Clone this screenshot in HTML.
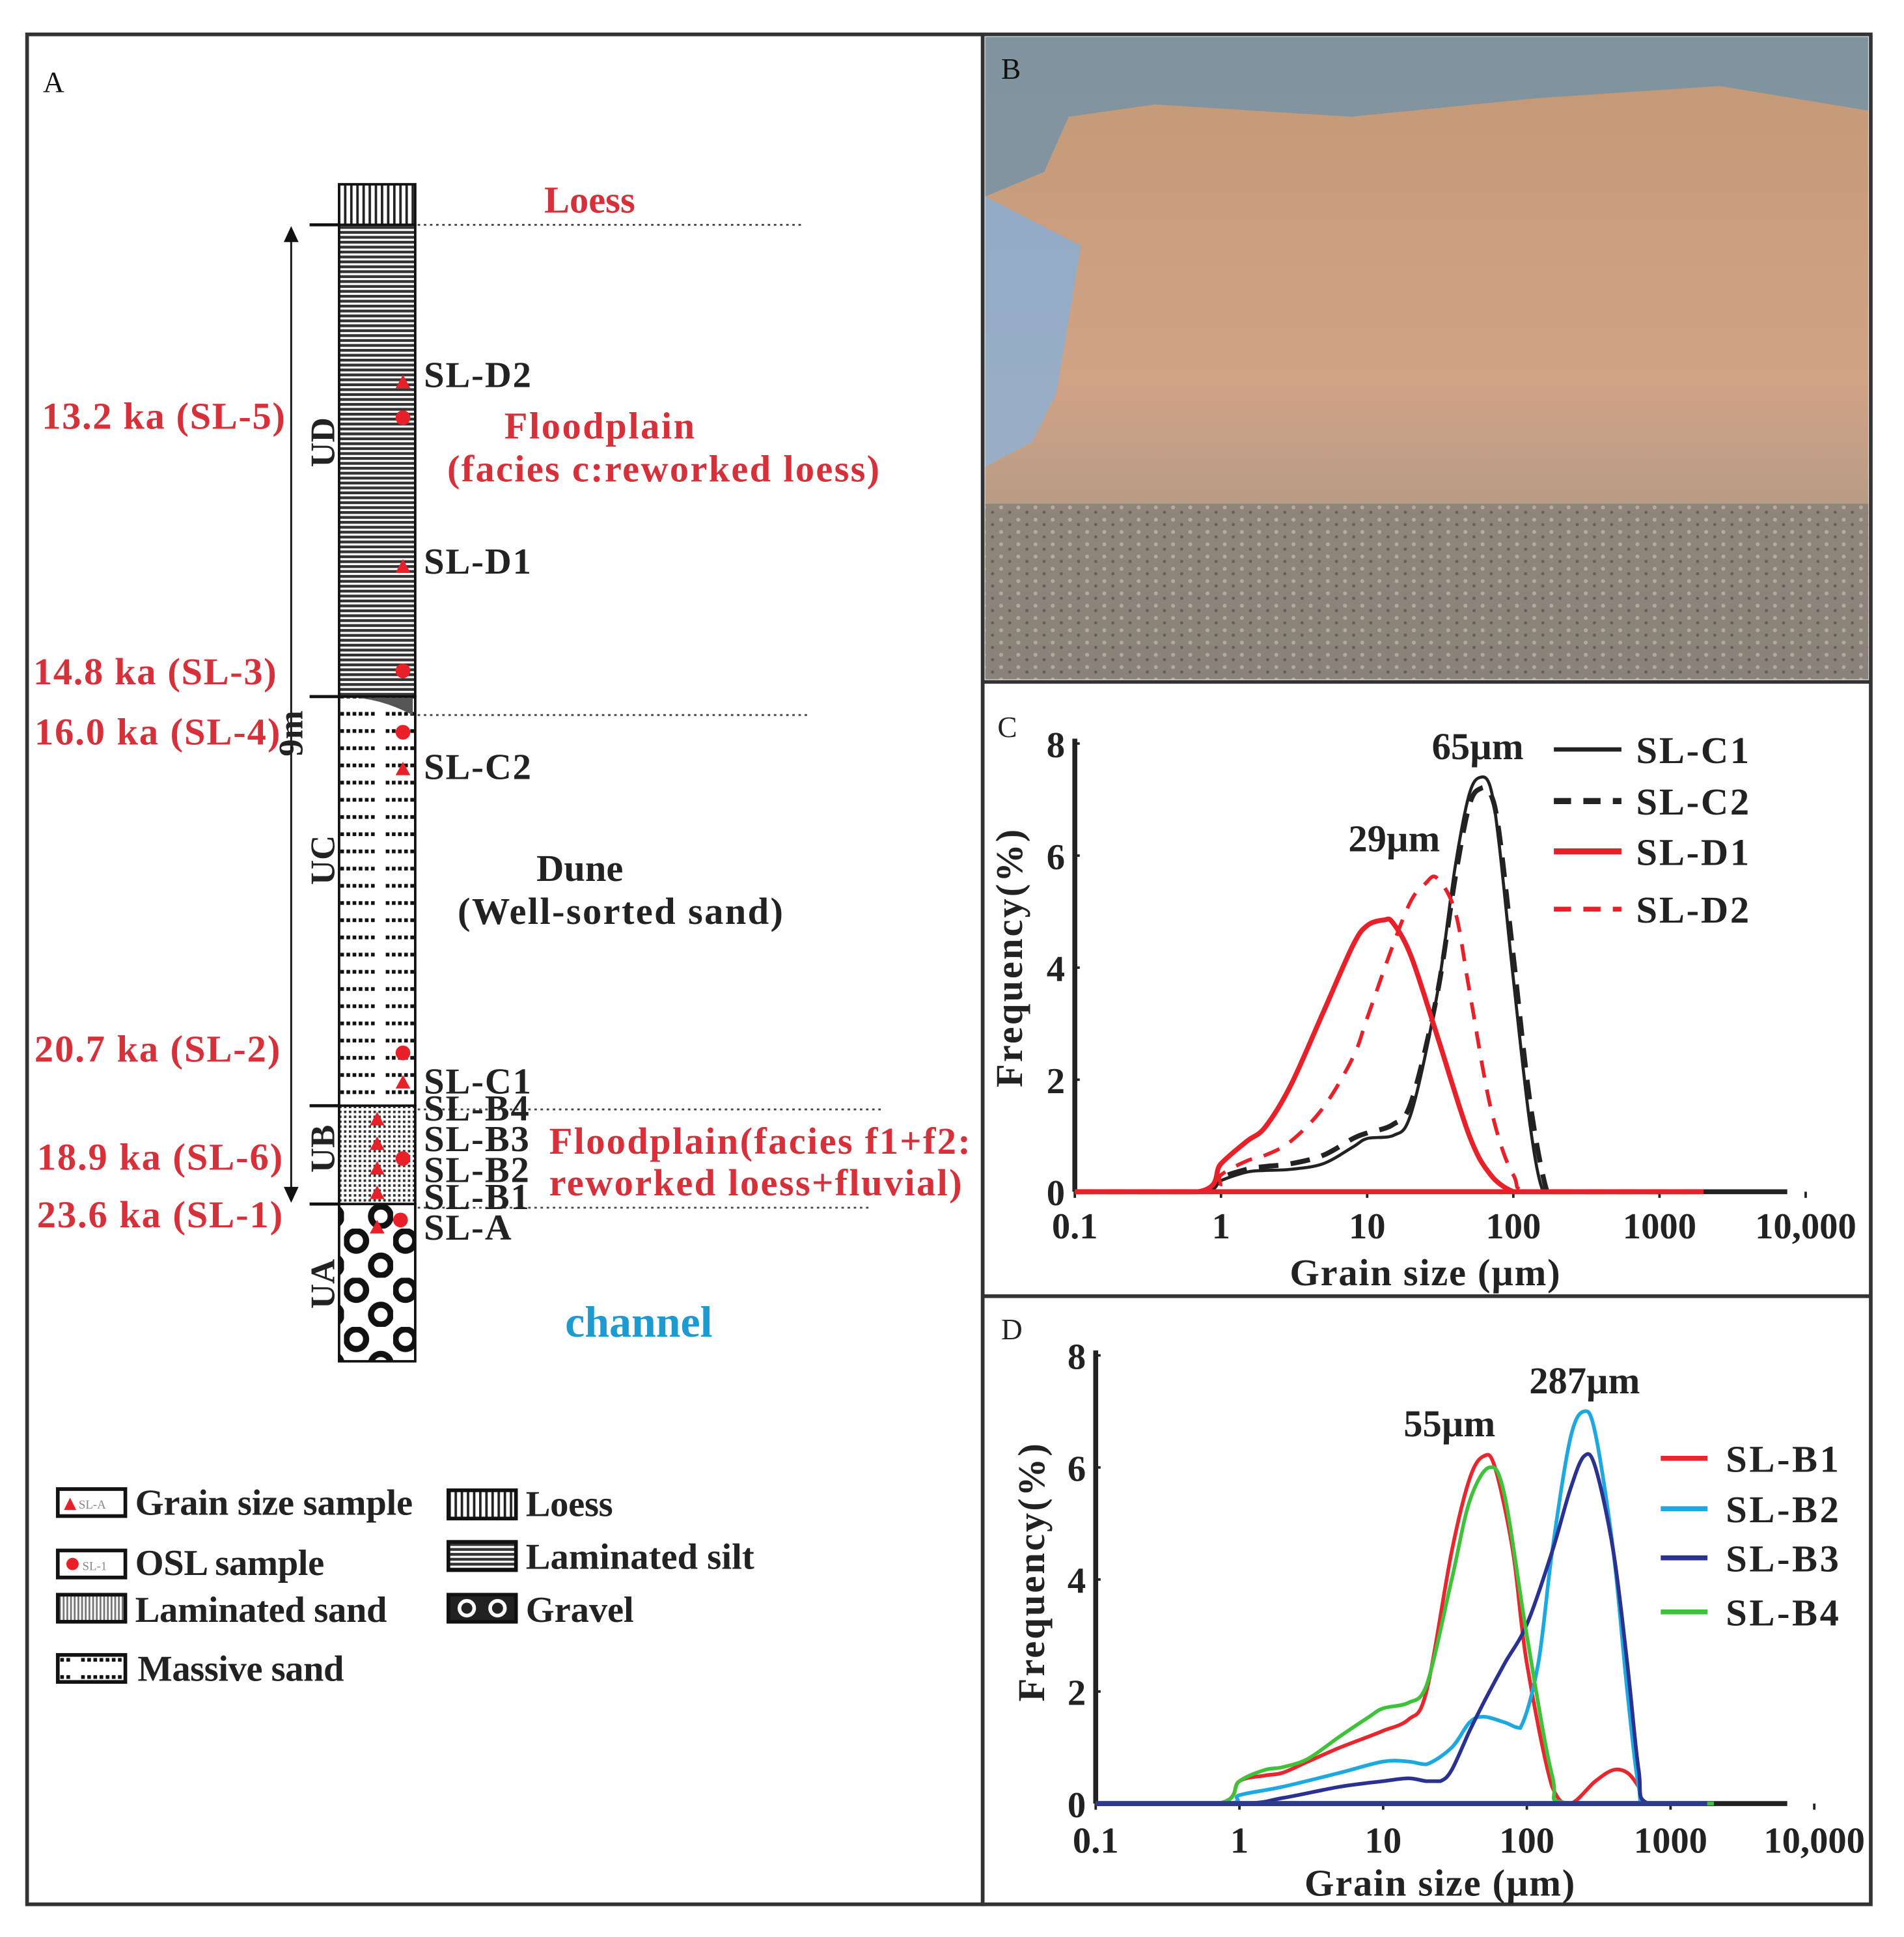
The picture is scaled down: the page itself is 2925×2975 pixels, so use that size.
<!DOCTYPE html>
<html><head><meta charset="utf-8"><style>
html,body{margin:0;padding:0;background:#fff;}
svg{display:block;}
text{font-family:"Liberation Serif",serif;font-weight:bold;}
</style></head><body>
<svg id="fig" width="2925" height="2975" viewBox="0 0 1550 1576.6" xmlns="http://www.w3.org/2000/svg">
<defs>
<pattern id="pLoess" width="5" height="10" patternUnits="userSpaceOnUse"><rect width="5" height="10" fill="#fff"/><rect width="2" height="10" fill="#222"/></pattern>
<pattern id="pSilt" width="10" height="4" patternUnits="userSpaceOnUse"><rect width="10" height="4" fill="#fff"/><rect width="10" height="2.3" fill="#333"/></pattern>
<pattern id="pMassive" width="62" height="14" patternUnits="userSpaceOnUse"><rect width="62" height="14" fill="#fff"/><line x1="4" y1="7" x2="58" y2="7" stroke="#111" stroke-width="3" stroke-dasharray="3 2"/></pattern>
<pattern id="pSand" width="4" height="4" patternUnits="userSpaceOnUse"><rect width="4" height="4" fill="#fff"/><rect width="2" height="2" fill="#333"/></pattern>
<pattern id="pGravel" width="40" height="40" patternUnits="userSpaceOnUse"><rect width="40" height="40" fill="#fff"/><circle cx="10" cy="10" r="8" fill="none" stroke="#111" stroke-width="5"/><circle cx="30" cy="30" r="8" fill="none" stroke="#111" stroke-width="5"/></pattern>
<pattern id="pLamSand" width="3" height="3" patternUnits="userSpaceOnUse"><rect width="3" height="3" fill="#fff"/><rect width="1.5" height="3" fill="#777"/></pattern>
<pattern id="pGrit" width="14" height="10" patternUnits="userSpaceOnUse"><rect width="14" height="10" fill="#8a8379"/><circle cx="3" cy="3" r="1.6" fill="#b5ada2"/><circle cx="10" cy="7" r="1.3" fill="#5f5a53"/></pattern>
<linearGradient id="gCliff" x1="0" y1="0" x2="0" y2="1"><stop offset="0" stop-color="#c49a78"/><stop offset="0.5" stop-color="#d0a386"/><stop offset="0.75" stop-color="#b39a85"/><stop offset="1" stop-color="#8a8278"/></linearGradient>
<linearGradient id="gSky" x1="0" y1="0" x2="0" y2="1"><stop offset="0" stop-color="#8ea8c6"/><stop offset="1" stop-color="#9fb2c6"/></linearGradient>
</defs>

<rect x="22" y="28" width="778" height="1522" fill="#fff" stroke="#333" stroke-width="3"/>
<rect x="800" y="28" width="723" height="1522" fill="#fff" stroke="#333" stroke-width="3"/>
<line x1="800" y1="555" x2="1523" y2="555" stroke="#333" stroke-width="3"/>
<line x1="800" y1="1055" x2="1523" y2="1055" stroke="#333" stroke-width="3"/>

<g>
<rect x="802" y="30" width="719" height="523" fill="url(#gSky)"/>
<path d="M802,160 L850,140 L870,95 L940,85 L1100,95 L1250,80 L1400,70 L1521,90 L1521,553 L802,553 L802,380 L840,360 L860,320 L870,260 L880,200 Z" fill="url(#gCliff)"/>
<rect x="802" y="410" width="719" height="143" fill="url(#pGrit)" opacity="0.9"/>
<path d="M802,30 L1521,30 L1521,90 L1400,70 L1250,80 L1100,95 L940,85 L870,95 L850,140 L802,160Z" fill="#6f7a6e" opacity="0.45"/>
<text x="815" y="64" font-size="24" fill="#111" style="font-weight:normal">B</text>
</g>

<text x="35" y="75" font-size="24" style="font-weight:normal" fill="#111">A</text>
<g>
<rect x="276" y="150" width="62" height="33" fill="url(#pLoess)" stroke="#111" stroke-width="2"/>
<rect x="276" y="183" width="62" height="384" fill="url(#pSilt)" stroke="#111" stroke-width="2"/>
<rect x="276" y="567" width="62" height="333" fill="url(#pMassive)" stroke="#111" stroke-width="2"/>
<path d="M278,568 Q305,566 336,582 L336,568 Z" fill="#555"/>
<rect x="276" y="900" width="62" height="80" fill="url(#pSand)" stroke="#111" stroke-width="2"/>
<rect x="276" y="980" width="62" height="128" fill="url(#pGravel)" stroke="#111" stroke-width="2"/>
</g>
<g stroke="#444" stroke-width="1.5" stroke-dasharray="2 3">
<line x1="340" y1="183" x2="655" y2="183"/><line x1="340" y1="582" x2="658" y2="582"/><line x1="340" y1="903" x2="718" y2="903"/><line x1="340" y1="983" x2="708" y2="983"/>
</g>
<g stroke="#111" stroke-width="2.5"><line x1="252" y1="183" x2="276" y2="183"/><line x1="252" y1="567" x2="276" y2="567"/><line x1="252" y1="900" x2="276" y2="900"/><line x1="252" y1="980" x2="276" y2="980"/></g>
<g>
<line x1="237" y1="195" x2="237" y2="968" stroke="#111" stroke-width="1.5"/>
<path d="M231,197 L237,184 L243,197Z" fill="#111"/><path d="M231,966 L237,979 L243,966Z" fill="#111"/>
</g>
<text transform="translate(246,597) rotate(-90)" text-anchor="middle" font-size="28" fill="#222">9m</text>
<g font-size="28" fill="#222" text-anchor="middle">
<text transform="translate(272,360) rotate(-90)">UD</text>
<text transform="translate(272,700) rotate(-90)">UC</text>
<text transform="translate(272,935) rotate(-90)">UB</text>
<text transform="translate(272,1045) rotate(-90)">UA</text>
</g>
<g font-size="31" fill="#d6303a" text-anchor="end">
<text x="232" y="349" textLength="198">13.2 ka (SL-5)</text><text x="225" y="557" textLength="198">14.8 ka (SL-3)</text><text x="228" y="606" textLength="200">16.0 ka (SL-4)</text>
<text x="228" y="864" textLength="200">20.7 ka (SL-2)</text><text x="230" y="952" textLength="200">18.9 ka (SL-6)</text><text x="230" y="999" textLength="200">23.6 ka (SL-1)</text>
</g>
<g font-size="30" fill="#222" letter-spacing="1">
<text x="345" y="315">SL-D2</text><text x="345" y="467">SL-D1</text><text x="345" y="634">SL-C2</text><text x="345" y="890">SL-C1</text>
<text x="345" y="912">SL-B4</text><text x="345" y="937">SL-B3</text><text x="345" y="962">SL-B2</text><text x="345" y="984">SL-B1</text><text x="345" y="1009">SL-A</text>
</g>
<g fill="#e8202a">
<path d="M322,316 L328,305 L334,316Z"/><path d="M322,466 L328,455 L334,466Z"/><path d="M322,631 L328,620 L334,631Z"/><path d="M322,886 L328,875 L334,886Z"/>
<path d="M301,916 L307,905 L313,916Z"/><path d="M301,936 L307,925 L313,936Z"/><path d="M301,956 L307,945 L313,956Z"/><path d="M301,976 L307,965 L313,976Z"/><path d="M301,1004 L307,993 L313,1004Z"/>
<circle cx="328" cy="340" r="6"/><circle cx="328" cy="546" r="6"/><circle cx="328" cy="596" r="6"/><circle cx="328" cy="857" r="6"/><circle cx="328" cy="943" r="6"/><circle cx="326" cy="993" r="6"/>
</g>
<g font-size="31" fill="#d6303a">
<text x="480" y="173" text-anchor="middle">Loess</text>
<text x="488" y="357" text-anchor="middle" textLength="155">Floodplain</text>
<text x="540" y="392" text-anchor="middle" textLength="352">(facies c:reworked loess)</text>
<text x="447" y="939" textLength="343">Floodplain(facies f1+f2:</text>
<text x="447" y="973" textLength="336">reworked loess+fluvial)</text>
</g>
<g font-size="31" fill="#222" text-anchor="middle"><text x="472" y="717">Dune</text><text x="505" y="752" textLength="265">(Well-sorted sand)</text></g>
<text x="520" y="1088" text-anchor="middle" font-size="36" fill="#1d9bd1">channel</text>

<g font-size="30" fill="#222">
<rect x="47" y="1212" width="55" height="22" fill="#fff" stroke="#111" stroke-width="3"/><path d="M52,1229 L57,1219 L62,1229Z" fill="#e8202a"/><text x="64" y="1228" font-size="10" style="font-weight:normal" fill="#888">SL-A</text>
<text x="110" y="1233" textLength="226">Grain size sample</text>
<rect x="47" y="1262" width="55" height="22" fill="#fff" stroke="#111" stroke-width="3"/><circle cx="59" cy="1273" r="5" fill="#e8202a"/><text x="67" y="1278" font-size="10" style="font-weight:normal" fill="#888">SL-1</text>
<text x="110" y="1282" textLength="154">OSL sample</text>
<rect x="47" y="1298" width="55" height="22" fill="url(#pLamSand)" stroke="#111" stroke-width="3"/><text x="110" y="1320" textLength="205">Laminated sand</text>
<rect x="47" y="1347" width="55" height="22" fill="url(#pMassive)" stroke="#111" stroke-width="3"/><text x="112" y="1368" textLength="168">Massive sand</text>
<rect x="365" y="1213" width="55" height="23" fill="url(#pLoess)" stroke="#111" stroke-width="3"/><text x="428" y="1234" textLength="71">Loess</text>
<rect x="365" y="1255" width="55" height="23" fill="url(#pSilt)" stroke="#111" stroke-width="3"/><text x="428" y="1277" textLength="186">Laminated silt</text>
<rect x="365" y="1298" width="55" height="22" fill="#222" stroke="#111" stroke-width="3"/><circle cx="380" cy="1309" r="6" fill="none" stroke="#fff" stroke-width="3"/><circle cx="405" cy="1309" r="6" fill="none" stroke="#fff" stroke-width="3"/><text x="428" y="1320" textLength="88">Gravel</text>
</g>

<g id="chartC"></g>
<g id="chartD"></g>
</svg>

<script>
// ---- Chart C data ----
const cC1Size=[0.1,0.7,1,1.5,2,3,5,8,10,15,20,30,40,50,60,70,80,100,130,160,200,2000];
const cC1Freq=[0,0,0.2,0.35,0.38,0.4,0.5,0.8,0.95,1.0,1.4,3.5,5.8,7.1,7.4,7.2,6.2,3.8,1.2,0,0,0];
const cC2Size=[0.1,0.7,1,1.5,2,3,5,8,10,15,20,30,40,50,60,70,80,100,130,170,200,2000];
const cC2Freq=[0,0,0.25,0.4,0.45,0.5,0.65,0.95,1.05,1.2,1.6,3.5,5.6,6.9,7.2,7.1,6.4,4.2,1.6,0,0,0];
const cD1Size=[0.1,0.7,1,1.5,2,3,5,8,10,13,15,20,30,50,70,100,130,2000];
const cD1Freq=[0,0,0.5,0.9,1.15,1.9,3.2,4.4,4.75,4.85,4.8,4.2,2.8,1.0,0.3,0,0,0];
const cD2Size=[0.1,0.8,1,1.5,2,3,5,8,10,15,20,25,30,40,50,70,100,150,2000];
const cD2Freq=[0,0,0.3,0.55,0.65,0.9,1.5,2.4,3.1,4.4,5.2,5.5,5.6,5.0,3.6,1.5,0.3,0,0];
// ---- Chart D data ----
const dB1Size=[0.1,0.7,1,1.5,2,3,5,8,10,15,20,30,40,50,60,80,100,150,200,300,400,500,600,700,2000];
const dB1Freq=[0,0,0.4,0.5,0.55,0.75,1.0,1.2,1.3,1.5,2.0,4.5,5.8,6.2,6.0,4.5,2.5,0.3,0,0.4,0.6,0.55,0.3,0,0];
const dB2Size=[0.1,0.8,1,2,5,10,15,20,30,40,50,70,90,120,150,200,250,300,400,500,600,700,2000];
const dB2Freq=[0,0,0.15,0.3,0.55,0.75,0.75,0.7,1.0,1.45,1.55,1.45,1.35,2.5,4.5,6.5,7.0,6.6,4.5,2.0,0.3,0,0];
const dB3Size=[0.1,1,2,5,10,15,20,25,30,40,50,70,100,150,200,250,300,400,500,600,700,2000];
const dB3Freq=[0,0,0.1,0.3,0.4,0.45,0.4,0.4,0.6,1.3,1.8,2.5,3.2,4.5,5.6,6.2,6.0,4.5,2.5,0.6,0,0];
const dB4Size=[0.1,0.7,1,1.5,2,3,5,8,10,15,20,30,40,55,70,100,150,200,2000];
const dB4Freq=[0,0,0.4,0.6,0.65,0.8,1.2,1.55,1.7,1.8,2.1,4.0,5.4,6.0,5.5,3.0,0.5,0,0];
const xTicks=[0.1,1,10,100,1000,10000];
const xTickLabels=["0.1","1","10","100","1000","10,000"];
const yTicks=[0,2,4,6,8];

const NS="http://www.w3.org/2000/svg";
function mk(tag,attrs,parent){const e=document.createElementNS(NS,tag);for(const k in attrs)e.setAttribute(k,attrs[k]);parent.appendChild(e);return e;}
function smooth(pts){let d="M"+pts[0][0]+","+pts[0][1];for(let i=0;i<pts.length-1;i++){const p0=pts[i-1]||pts[i],p1=pts[i],p2=pts[i+1],p3=pts[i+2]||p2;
const c1x=p1[0]+(p2[0]-p0[0])/6,c1y=p1[1]+(p2[1]-p0[1])/6,c2x=p2[0]-(p3[0]-p1[0])/6,c2y=p2[1]-(p3[1]-p1[1])/6;
d+=" C"+c1x+","+Math.min(c1y,Math.max(p1[1],p2[1]))+" "+c2x+","+Math.min(c2y,Math.max(p1[1],p2[1]))+" "+p2[0]+","+p2[1];}return d;}

function chart(g,o){
  const sx=v=>o.x0+o.dec*Math.log10(v/0.1);
  const sy=v=>o.y0-o.unit*v;
  const ya=mk('line',{x1:o.x0,y1:sy(8)-4,x2:o.x0,y2:sy(0),stroke:'#222','stroke-width':4},g);
  
  
  const xa=mk('line',{x1:o.x0,y1:sy(0),x2:o.xEnd,y2:sy(0),stroke:'#222','stroke-width':4},g);
  
  
  yTicks.forEach(t=>{
    const tl=mk('text',{x:o.x0-8,y:sy(t)+11,'text-anchor':'end','font-size':30,fill:'#222'},g);tl.textContent=t;
    
    
    mk('line',{x1:o.x0,y1:sy(t),x2:o.x0+4,y2:sy(t),stroke:'#222','stroke-width':2},g);
  });
  xTicks.forEach((t,i)=>{
    mk('line',{x1:sx(t),y1:sy(0),x2:sx(t),y2:sy(0)+5,stroke:'#222','stroke-width':2},g);
    const tl=mk('text',{x:sx(t),y:sy(0)+o.labOff,'text-anchor':'middle','font-size':30,fill:'#222'},g);tl.textContent=xTickLabels[i];
    
    
  });
  o.series.forEach(s=>{
    const pts=s.size.map((v,i)=>[sx(v),sy(s.freq[i])]);
    const p=mk('path',{d:smooth(pts),fill:'none',stroke:s.color,'stroke-width':s.w,'stroke-dasharray':s.dash||'none'},g);
    
    
  });
  mk('line',{x1:o.x0,y1:sy(0),x2:sx(o.redEnd),y2:sy(0),stroke:o.baseColor,'stroke-width':4},g);
  const yl=mk('text',{transform:`translate(${o.yLabX},${o.yLabY}) rotate(-90)`,'text-anchor':'middle','font-size':31,fill:'#222',textLength:210},g);yl.textContent='Frequency(%)';
  
  
  const xl=mk('text',{x:o.xLabX,y:o.xLabY,'text-anchor':'middle','font-size':31,fill:'#222',textLength:220},g);xl.textContent='Grain size (µm)';
  
  
  const pl=mk('text',{x:o.px,y:o.py,'font-size':24,fill:'#222',style:'font-weight:normal'},g);pl.textContent=o.panel;
  
  
  o.series.forEach((s,i)=>{
    const ly=o.legY[i];
    const ll=mk('line',{x1:o.legX1,y1:ly,x2:o.legX2,y2:ly,stroke:s.color,'stroke-width':s.w+1,'stroke-dasharray':s.dash?'14 10':'none'},g);
    
    
    const lt=mk('text',{x:o.legTX,y:ly+11,'font-size':31,fill:'#222',textLength:92},g);lt.textContent=s.name;
    
    
  });
  o.notes.forEach(n=>{const t=mk('text',{x:n[0],y:n[1],'text-anchor':'middle','font-size':31,fill:'#222'},g);t.textContent=n[2];
    
    });
}
chart(document.getElementById('chartC'),{x0:875,dec:119,xEnd:1455,y0:970,unit:45.6,labOff:38,redEnd:1600,baseColor:'#e8202a',
 yLabX:832,yLabY:780,xLabX:1160,xLabY:1046,panel:'C',px:812,py:600,
 legX1:1265,legX2:1320,legTX:1332,legY:[610,652,693,740],
 notes:[[1203,618,'65µm'],[1135,693,'29µm']],
 series:[{name:'SL-C1',size:cC1Size,freq:cC1Freq,color:'#222',w:2.5},
         {name:'SL-C2',size:cC2Size,freq:cC2Freq,color:'#222',w:4,dash:'16 10'},
         {name:'SL-D1',size:cD1Size,freq:cD1Freq,color:'#e8202a',w:4},
         {name:'SL-D2',size:cD2Size,freq:cD2Freq,color:'#e8202a',w:3,dash:'14 10'}]});
chart(document.getElementById('chartD'),{x0:892,dec:117,xEnd:1455,y0:1468,unit:45.6,labOff:40,redEnd:1800,baseColor:'#2e3a8f',
 yLabX:850,yLabY:1280,xLabX:1172,xLabY:1543,panel:'D',px:815,py:1090,
 legX1:1352,legX2:1390,legTX:1405,legY:[1187,1228,1268,1312],
 notes:[[1180,1169,'55µm'],[1290,1134,'287µm']],
 series:[{name:'SL-B1',size:dB1Size,freq:dB1Freq,color:'#e8262e',w:3},
         {name:'SL-B2',size:dB2Size,freq:dB2Freq,color:'#1ea8e0',w:3},
         {name:'SL-B3',size:dB3Size,freq:dB3Freq,color:'#2b3190',w:3},
         {name:'SL-B4',size:dB4Size,freq:dB4Freq,color:'#3ec23a',w:3}]});
</script>
</body></html>
